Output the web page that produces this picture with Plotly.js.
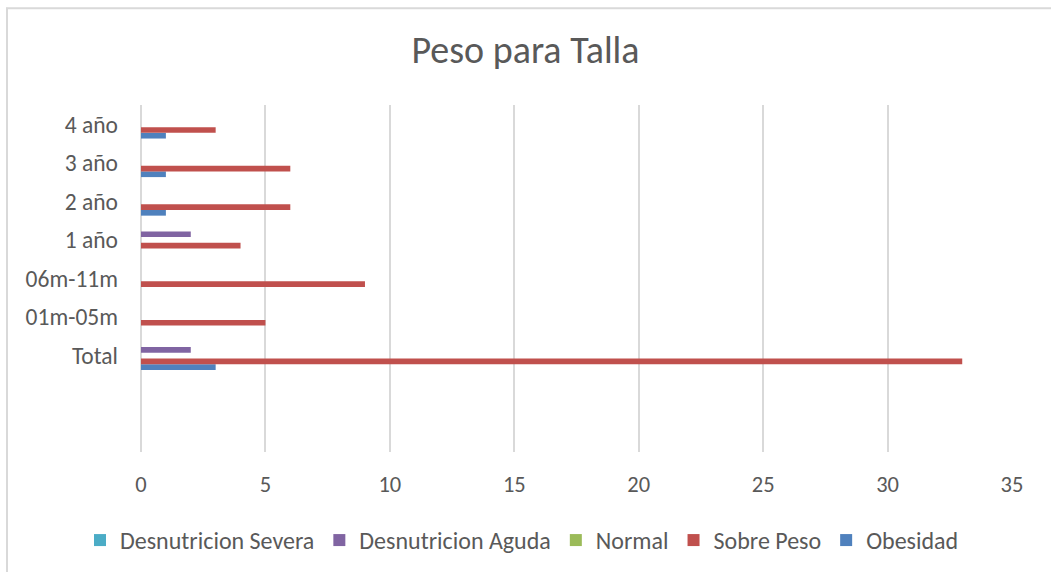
<!DOCTYPE html>
<html>
<head>
<meta charset="utf-8">
<script src="https://cdn.plot.ly/plotly-3.0.1.min.js"></script>
<style>html,body{margin:0;padding:0;background:#fff;}#chart{width:1051px;height:575px;}</style>
</head>
<body>
<div id="chart"></div>
<script>
const categories = ["Total", "01m-05m", "06m-11m", "1 año", "2 año", "3 año", "4 año"];
const desnutricionSevera = [0, 0, 0, 0, 0, 0, 0];
const desnutricionAguda  = [2, 0, 0, 2, 0, 0, 0];
const normal             = [0, 0, 0, 0, 0, 0, 0];
const sobrePeso          = [33, 5, 9, 4, 6, 6, 3];
const obesidad           = [3, 0, 0, 0, 1, 1, 1];
const xTicks = [0, 5, 10, 15, 20, 25, 30, 35];

const font = "Carlito, Lato, 'Open Sans', sans-serif";
const txt = "#595959";

// listed bottom-to-top within each group; legend reversed
const series = [
  {name: "Obesidad", x: obesidad, color: "#4F81BD"},
  {name: "Sobre Peso", x: sobrePeso, color: "#C0504D"},
  {name: "Normal", x: normal, color: "#9BBB59"},
  {name: "Desnutricion Aguda", x: desnutricionAguda, color: "#8064A2"},
  {name: "Desnutricion Severa", x: desnutricionSevera, color: "#4BACC6"}
];

const traces = series.map(s => ({
  type: "bar", orientation: "h", name: s.name,
  x: s.x, y: categories,
  marker: {color: s.color}
}));

const W = 1051, H = 575;
const m = {l: 141, r: 39, t: 105, b: 117};
const pw = W - m.l - m.r, ph = H - m.t - m.b;
const px = v => (v - m.l) / pw;
const py = v => 1 - (v - m.t) / ph;

const layout = {
  width: W, height: H,
  margin: m,
  paper_bgcolor: "#fff", plot_bgcolor: "#fff",
  font: {family: font, color: txt, size: 23},
  title: {text: "Peso para Talla", font: {family: font, size: 38, color: txt}, x: 0.5, xanchor: "center", y: 1 - 50 / H, yanchor: "middle", yref: "container"},
  barmode: "group", bargap: 0.26, bargroupgap: 0,
  showlegend: true,
  legend: {orientation: "h", traceorder: "reversed", x: px(80), xanchor: "left", y: py(548), yanchor: "middle", font: {size: 24, color: txt}, itemwidth: 30},
  xaxis: {
    range: [0, 35], tickvals: xTicks, ticktext: xTicks.map(String),
    showgrid: true, gridcolor: "#d9d9d9", gridwidth: 2,
    zeroline: true, zerolinecolor: "#d9d9d9", zerolinewidth: 2,
    showline: false, ticks: "", ticklabelstandoff: 16,
    tickfont: {size: 22.5, color: txt}, fixedrange: true, automargin: false
  },
  yaxis: {
    type: "category", categoryorder: "array", categoryarray: categories,
    range: [-2.5, 6.5], showgrid: false, zeroline: false, showline: false,
    ticks: "", ticklabelstandoff: 22, tickfont: {size: 23.5, color: txt}, fixedrange: true, automargin: false
  },
  shapes: [
    {type: "line", xref: "paper", yref: "paper", x0: px(7), x1: px(7), y0: py(6), y1: py(580), line: {color: "#d9d9d9", width: 2}},
    {type: "line", xref: "paper", yref: "paper", x0: px(6), x1: px(1060), y0: py(6.5), y1: py(6.5), line: {color: "#d9d9d9", width: 2}}
  ]
};

Plotly.newPlot("chart", traces, layout, {displayModeBar: false, staticPlot: true});
</script>
</body>
</html>
